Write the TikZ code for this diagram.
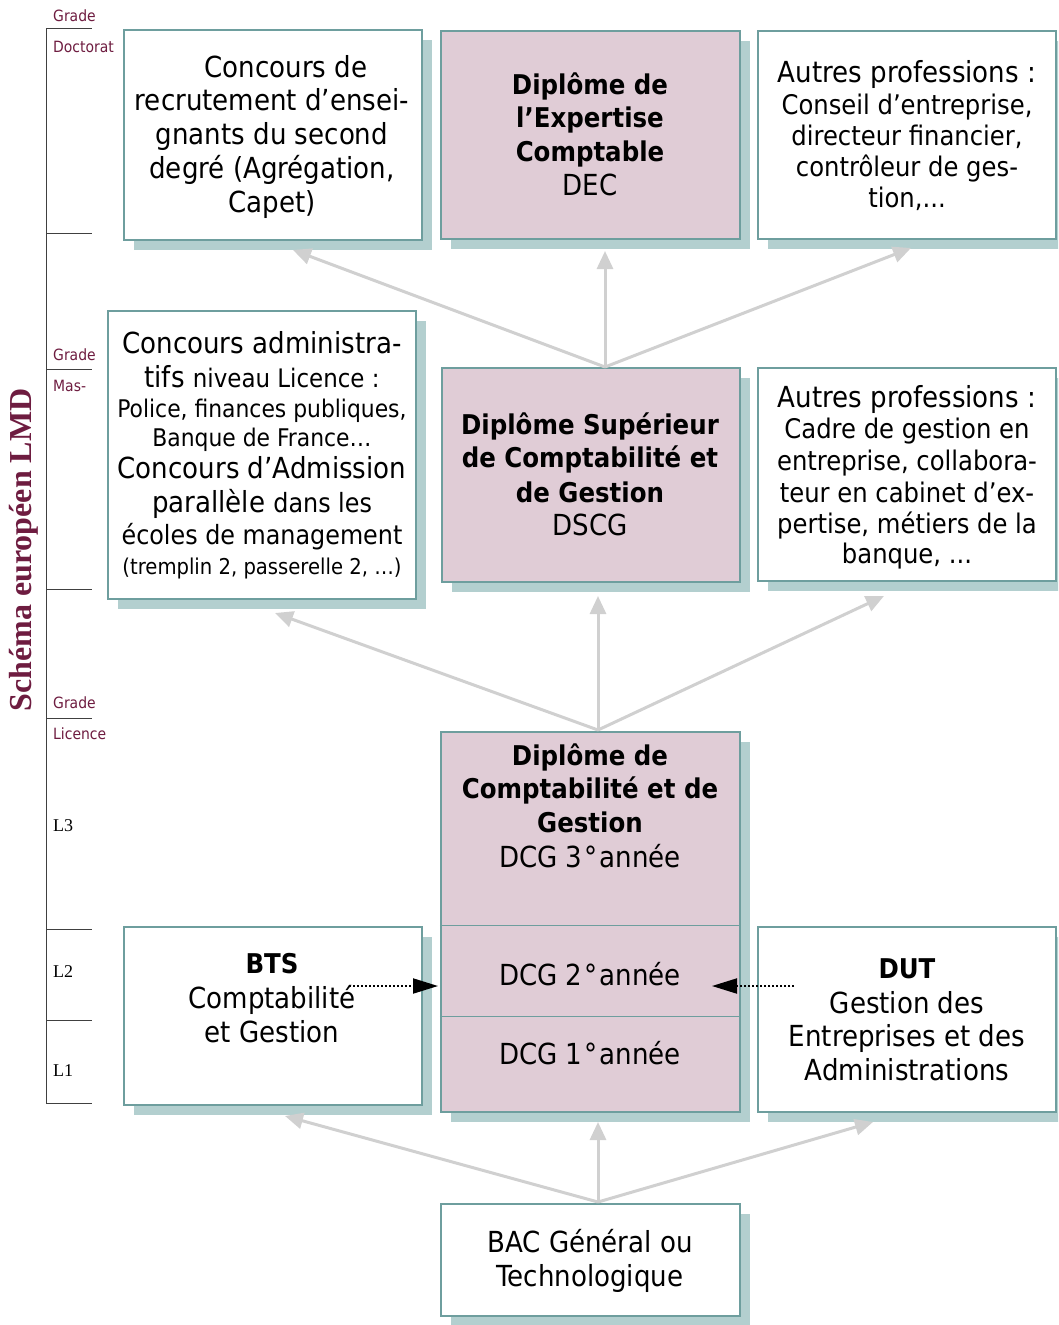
\documentclass[tikz,border=0pt]{standalone}
\usepackage{fontspec}
\setmainfont{DejaVu Sans Condensed}
\newfontfamily\serifx{Liberation Serif}
\usetikzlibrary{arrows.meta,shadows}
\definecolor{bordc}{RGB}{110,158,158}
\definecolor{shadc}{RGB}{179,207,207}
\definecolor{pinkc}{RGB}{224,204,214}
\definecolor{maroonc}{RGB}{110,28,64}
\definecolor{arrc}{RGB}{208,208,208}
\begin{document}
\begin{tikzpicture}[x=1pt,y=-1pt,
 wbox/.style={draw=bordc, line width=2.5pt, fill=white, inner sep=0pt,
   general shadow={fill=shadc, shadow xshift=10pt, shadow yshift=-10pt}},
 pbox/.style={wbox, fill=pinkc},
 tL/.style={anchor=base, inner sep=0pt, font=\fontsize{29}{34}\selectfont},
 tM/.style={anchor=base, inner sep=0pt, font=\fontsize{27}{32}\selectfont},
 tS/.style={anchor=base, inner sep=0pt, font=\fontsize{24.3}{30}\selectfont},
 tT/.style={anchor=base, inner sep=0pt, font=\fontsize{21.8}{26}\selectfont},
 tB/.style={anchor=base, inner sep=0pt, font=\fontsize{27.2}{33}\selectfont\bfseries},
 grd/.style={anchor=base west, inner sep=0pt, text=maroonc, font=\fontsize{15.5}{18}\selectfont},
 lvl/.style={anchor=base west, inner sep=0pt, font=\serifx\fontsize{18}{20}\selectfont},
 uparr/.style={draw=arrc, line width=3pt, -{Triangle[length=18pt,width=16pt]}},
 dotarr/.style={draw=black, dotted, line width=2pt, -{Triangle[length=25pt,width=15pt]}}
]
\useasboundingbox (0,0) rectangle (1058,1325);
\clip (0,0) rectangle (1058,1325);

% left axis
\draw[line width=1pt, black!75] (46,28) -- (46,1103);
\foreach \yy in {28,233,369,589,718,929,1020,1103}
  \draw[line width=1pt, black!75] (46,\yy) -- (92,\yy);
\node[grd] (g1) at (53,21) {Grade};
\node[grd] (g2) at (53,52) {Doctorat};
\node[grd] (g3) at (53,360) {Grade};
\node[grd] (g4) at (53,391) {Mas-};
\node[grd] (g5) at (53,708) {Grade};
\node[grd] (g6) at (53,739) {Licence};
\node[lvl] (l3) at (53,831) {L3};
\node[lvl] (l2) at (53,977) {L2};
\node[lvl] (l1) at (53,1076) {L1};
\node[rotate=90, text=maroonc, inner sep=0pt, font=\serifx\bfseries\fontsize{32}{36}\selectfont] (title) at (24,550) {Schéma européen LMD};

% boxes
\node[wbox, minimum width=298pt, minimum height=210pt] (b1) at (273,135) {};
\node[pbox, minimum width=299pt, minimum height=208pt] (b2) at (590.5,135) {};
\node[wbox, minimum width=298pt, minimum height=208pt] (b3) at (907,135) {};
\node[wbox, minimum width=308pt, minimum height=288pt] (m1) at (262,455) {};
\node[pbox, minimum width=298pt, minimum height=214pt] (m2) at (591,475) {};
\node[wbox, minimum width=298pt, minimum height=213pt] (m3) at (907,474.5) {};
\node[pbox, minimum width=299pt, minimum height=380pt] (dcg) at (590.5,922) {};
\node[wbox, minimum width=298pt, minimum height=178pt] (bts) at (273,1016) {};
\node[wbox, minimum width=298pt, minimum height=185pt] (dut) at (907,1019.5) {};
\node[wbox, minimum width=299pt, minimum height=112pt] (bac) at (590.5,1260) {};
\draw[bordc, line width=1pt] (dcg.west |- 0,925) -- (dcg.east |- 0,925);
\draw[bordc, line width=1pt] (dcg.west |- 0,1016) -- (dcg.east |- 0,1016);

% texts
\node[tL] (b1a) at (286,77) {Concours de};
\node[tL] (b1b) at (272,110) {recrutement d’ensei-};
\node[tL] (b1c) at (272,144) {gnants du second};
\node[tL] (b1d) at (272,178) {degré (Agrégation,};
\node[tL] (b1e) at (272,212) {Capet)};

\node[tB] (b2a) at (590,94) {Diplôme de};
\node[tB] (b2b) at (590,127) {l’Expertise};
\node[tB] (b2c) at (590,161) {Comptable};
\node[tL] (b2d) at (590,195) {DEC};

\node[tL] (b3a) at (907,82) {Autres professions :};
\node[tM] (b3b) at (907,114) {Conseil d’entreprise,};
\node[tM] (b3c) at (907,145) {directeur financier,};
\node[tM] (b3d) at (907,176) {contrôleur de ges-};
\node[tM] (b3e) at (907,207) {tion,...};

\node[tL] (m1a) at (262,353) {Concours administra-};
\node[tL] (m1b) at (262,387) {tifs {\fontsize{25.5}{30}\selectfont niveau Licence :}};
\node[tS] (m1c) at (262,417) {Police, finances publiques,};
\node[tS] (m1d) at (262,446) {Banque de France…};
\node[tL] (m1e) at (262,478) {Concours d’Admission};
\node[tL] (m1f) at (262,512) {parallèle {\fontsize{26.5}{30}\selectfont dans les}};
\node[tL] (m1g) at (262,544) {\fontsize{26.5}{30}\selectfont écoles de management};
\node[tT] (m1h) at (262,574) {(tremplin 2, passerelle 2, …)};

\node[tB] (m2a) at (590,434) {Diplôme Supérieur};
\node[tB] (m2b) at (590,467) {de Comptabilité et};
\node[tB] (m2c) at (590,502) {de Gestion};
\node[tL] (m2d) at (590,535) {DSCG};

\node[tL] (m3a) at (907,407) {Autres professions :};
\node[tM] (m3b) at (907,438) {Cadre de gestion en};
\node[tM] (m3c) at (907,470) {entreprise, collabora-};
\node[tM] (m3d) at (907,502) {teur en cabinet d’ex-};
\node[tM] (m3e) at (907,533) {pertise, métiers de la};
\node[tM] (m3f) at (907,563) {banque, ...};

\node[tB] (d1) at (590,765) {Diplôme de};
\node[tB] (d2) at (590,798) {Comptabilité et de};
\node[tB] (d3) at (590,832) {Gestion};
\node[tL] (d4) at (590,867) {DCG 3\kern2pt°\kern2ptannée};
\node[tL] (d5) at (590,985) {DCG 2\kern2pt°\kern2ptannée};
\node[tL] (d6) at (590,1064) {DCG 1\kern2pt°\kern2ptannée};

\node[tB] (t1) at (272,973) {BTS};
\node[tL] (t2) at (272,1008) {Comptabilité};
\node[tL] (t3) at (272,1042) {et Gestion};

\node[tB] (u1) at (907,978) {DUT};
\node[tL] (u2) at (907,1013) {Gestion des};
\node[tL] (u3) at (907,1046) {Entreprises et des};
\node[tL] (u4) at (907,1080) {Administrations};

\node[tL] (c1) at (590,1252) {BAC Général ou};
\node[tL] (c2) at (590,1286) {Technologique};

% connectors
\coordinate (s1) at (605,367);
\coordinate (e11) at (293,250);
\coordinate (e12) at (605,251);
\coordinate (e13) at (911,248);
\draw[uparr] (s1) -- (e11);
\draw[uparr] (s1) -- (e12);
\draw[uparr] (s1) -- (e13);

\coordinate (s2) at (598,730);
\coordinate (e21) at (275,613);
\coordinate (e22) at (598,596);
\coordinate (e23) at (884,596);
\draw[uparr] (s2) -- (e21);
\draw[uparr] (s2) -- (e22);
\draw[uparr] (s2) -- (e23);

\coordinate (s3) at (598,1202);
\coordinate (e31) at (285,1116);
\coordinate (e32) at (598,1122);
\coordinate (e33) at (873,1122);
\draw[uparr] (s3) -- (e31);
\draw[uparr] (s3) -- (e32);
\draw[uparr] (s3) -- (e33);

\coordinate (p1) at (349,986);
\coordinate (q1) at (438,986);
\coordinate (p2) at (794,986);
\coordinate (q2) at (712,986);
\draw[dotarr] (p1) -- (q1);
\draw[dotarr] (p2) -- (q2);
\end{tikzpicture}
\end{document}
